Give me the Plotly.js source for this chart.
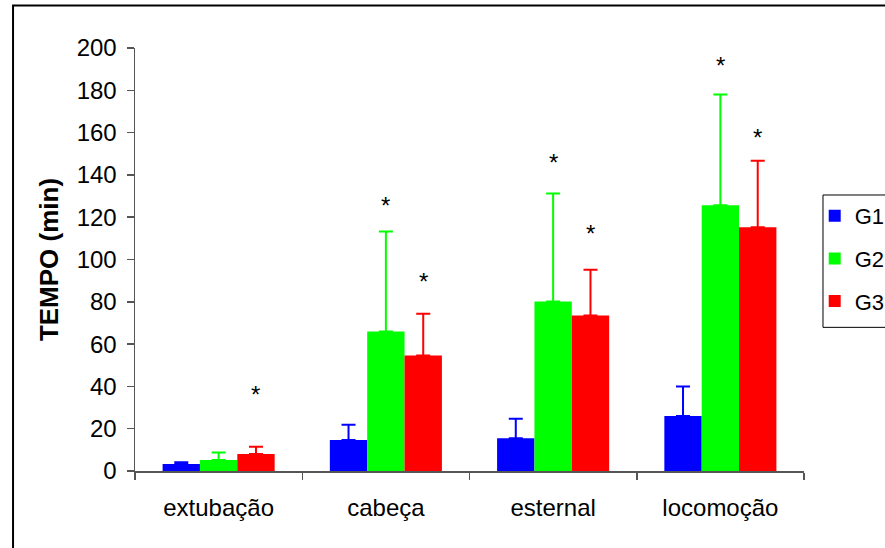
<!DOCTYPE html>
<html>
<head>
<meta charset="utf-8">
<script src="https://cdn.plot.ly/plotly-3.0.1.min.js"></script>
<style>
  html, body { margin: 0; padding: 0; background: #fff; }
  #chart { width: 885px; height: 548px; }
</style>
</head>
<body>
<div id="chart"></div>
<script>
// Recovery times (minutes) after anaesthesia, per phase and group
const categories = ['extubação', 'cabeça', 'esternal', 'locomoção'];

const g1Mean = [3.3, 14.7, 15.5, 26.0];
const g1Sd   = [0.8, 7.2, 9.2, 13.9];

const g2Mean = [5.2, 65.9, 80.1, 125.7];
const g2Sd   = [3.5, 47.3, 51.1, 52.3];

const g3Mean = [8.0, 54.6, 73.5, 115.3];
const g3Sd   = [3.5, 19.7, 21.6, 31.4];

// Significance markers (level in minutes where "*" is written; null = none)
const g2Star = [null, 126.7, 147.0, 192.6];
const g3Star = [37.2, 90.4, 113.2, 158.6];

const groupNames = ['G1', 'G2', 'G3'];
const groupColors = ['#0000FF', '#00FF00', '#FF0000'];

const means = [g1Mean, g2Mean, g3Mean];
const sds = [g1Sd, g2Sd, g3Sd];
const stars = [null, g2Star, g3Star];

const BARGAP = 0.33;
const FONT = 'Liberation Sans, Arial, sans-serif';

const traces = means.map((m, i) => ({
  type: 'bar',
  name: groupNames[i],
  x: categories,
  y: m,
  legendgroup: groupNames[i],
  marker: { color: groupColors[i], line: { width: 0 } },
  error_y: {
    type: 'data',
    symmetric: false,
    array: sds[i],
    arrayminus: sds[i].map(() => 0),
    color: groupColors[i],
    thickness: 2,
    width: 7
  },
  hoverinfo: 'x+y'
}));

// "*" labels placed above the corresponding bar of each group
const barW = (1 - BARGAP) / groupNames.length;
const annotations = [];
stars.forEach((arr, gi) => {
  if (!arr) return;
  arr.forEach((v, ci) => {
    if (v === null) return;
    annotations.push({
      xref: 'x', yref: 'y',
      x: ci + (gi - 1) * barW,
      y: v,
      text: '*',
      showarrow: false,
      yanchor: 'middle',
      yshift: -2,
      font: { family: FONT, size: 24, color: '#000' }
    });
  });
});

const layout = {
  width: 885,
  height: 548,
  margin: { l: 135, r: 81, t: 48, b: 77, autoexpand: false },
  paper_bgcolor: '#fff',
  plot_bgcolor: '#fff',
  barmode: 'group',
  bargap: BARGAP,
  bargroupgap: 0,
  showlegend: true,
  legend: {
    x: 1.016, xanchor: 'left',
    y: 0.6525, yanchor: 'top',
    borderwidth: 0,
    bgcolor: 'rgba(0,0,0,0)',
    tracegroupgap: 11,
    font: { family: FONT, size: 22, color: '#000' },
    itemclick: false
  },
  xaxis: {
    type: 'category',
    showline: true,
    linecolor: '#555',
    linewidth: 1.5,
    ticks: 'outside',
    tickson: 'boundaries',
    ticklen: 7,
    tickcolor: '#555',
    tickwidth: 1.5,
    ticklabelstandoff: 15,
    showgrid: false,
    zeroline: false,
    tickfont: { family: FONT, size: 24, color: '#000' }
  },
  yaxis: {
    range: [0, 200],
    dtick: 20,
    showline: true,
    linecolor: '#555',
    linewidth: 1.5,
    ticks: 'outside',
    ticklen: 7,
    tickcolor: '#555',
    tickwidth: 1.5,
    ticklabelstandoff: 5,
    showgrid: false,
    zeroline: false,
    tickfont: { family: FONT, size: 24, color: '#000' },
    title: {
      text: '<b>TEMPO (min)</b>',
      font: { family: FONT, size: 26, color: '#000' },
      standoff: 10
    }
  },
  annotations: annotations,
  shapes: [
    // outer chart frame (top and left edges visible, rest runs off the page)
    {
      type: 'rect', xref: 'paper', yref: 'paper',
      x0: -0.1823, x1: 1.25, y0: -0.25, y1: 1.1003,
      line: { color: '#000', width: 2 }, fillcolor: 'rgba(0,0,0,0)',
      layer: 'below'
    },
    // legend frame
    {
      type: 'rect', xref: 'paper', yref: 'paper',
      x0: 1.0284, x1: 1.2, y0: 0.3396, y1: 0.6525,
      line: { color: '#000', width: 1 }, fillcolor: 'rgba(0,0,0,0)',
      layer: 'below'
    }
  ]
};

Plotly.newPlot('chart', traces, layout, { displayModeBar: false, staticPlot: true });
</script>
</body>
</html>
